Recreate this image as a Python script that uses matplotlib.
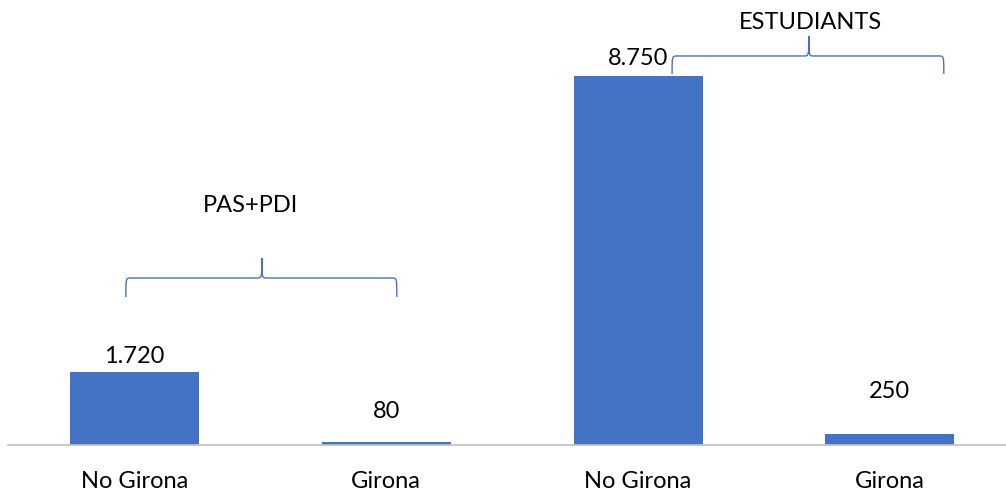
import matplotlib
matplotlib.use("Agg")
import matplotlib.pyplot as plt
from matplotlib.path import Path
from matplotlib.patches import PathPatch

categories = ["No Girona", "Girona", "No Girona", "Girona"]
values = [1720, 80, 8750, 250]
value_labels = ["1.720", "80", "8.750", "250"]
groups = ["PAS+PDI", "ESTUDIANTS"]

plt.rcParams['font.family'] = ['Lato', 'DejaVu Sans']

fig = plt.figure(figsize=(10.06, 4.95), dpi=100)
ax = fig.add_axes([8 / 1006, 50 / 495, 998 / 1006, 421.7 / 495])

x = list(range(len(categories)))
bars = ax.bar(x, values, width=0.512, color="#4472C4")
ax.set_xlim(-0.502, 3.461)
ax.set_ylim(0, 10000)

# data labels (nudged by hand in the original)
offsets = [16, 30, 18, 43]
for b, lab, off in zip(bars, value_labels, offsets):
    ax.annotate(lab, (b.get_x() + b.get_width() / 2, b.get_height()),
                xytext=(0, off), textcoords="offset pixels",
                ha="center", va="center", fontsize=17, color="#000000")

for s in ["top", "right", "left"]:
    ax.spines[s].set_visible(False)
ax.spines["bottom"].set_color("#bfbfbf")
ax.spines["bottom"].set_linewidth(1.2)
ax.set_yticks([])
ax.set_xticks(x)
ax.set_xticklabels(categories, fontsize=17)
ax.tick_params(axis="x", length=0, pad=19)


def brace(x0, x1, xm, yb, yh, yt, rx=0.02):
    verts = [(x0, yb), (x0, yh), (x0, yh), (x0 + rx, yh),
             (xm - rx, yh),
             (xm, yh), (xm, yh), (xm, yt),
             (xm, yh), (xm, yh), (xm + rx, yh),
             (x1 - rx, yh),
             (x1, yh), (x1, yh), (x1, yb)]
    codes = [Path.MOVETO, Path.CURVE4, Path.CURVE4, Path.CURVE4,
             Path.LINETO,
             Path.CURVE4, Path.CURVE4, Path.CURVE4,
             Path.CURVE4, Path.CURVE4, Path.CURVE4,
             Path.LINETO,
             Path.CURVE4, Path.CURVE4, Path.CURVE4]
    ax.add_patch(PathPatch(Path(verts, codes), fill=False, edgecolor="#4472C4",
                           linewidth=1.0, clip_on=False))


brace(-0.034, 1.042, 0.506, 3510, 3960, 4434)
brace(2.135, 3.214, 2.678, 8798, 9225, 9699)

ax.text(0.459, 5668, groups[0], ha="center", va="center", fontsize=17)
ax.text(2.683, 10019, groups[1], ha="center", va="center", fontsize=17, clip_on=False)

fig.savefig("out.png", dpi=100)
